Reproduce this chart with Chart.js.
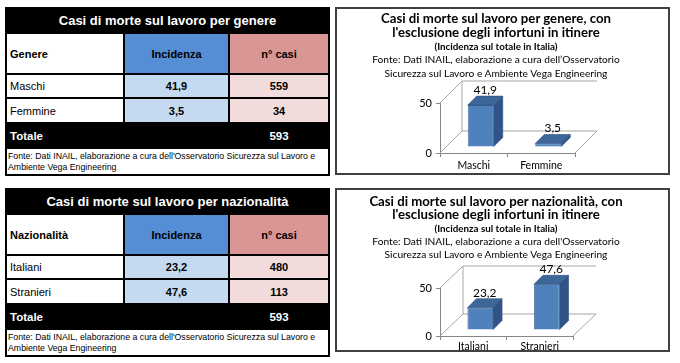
<!DOCTYPE html>
<html><head><meta charset="utf-8">
<script src="https://cdn.jsdelivr.net/npm/chart.js@4.4.1/dist/chart.umd.min.js"></script>
<style>
body{margin:0;width:680px;height:363px;background:#fff;position:relative;overflow:hidden;font-family:"Liberation Sans",Arial,sans-serif}
.tbl{position:absolute;left:5px;width:325px;height:169px;box-sizing:border-box;padding:2px;background:#000;display:grid;grid-template-columns:116px 103px 98px;grid-template-rows:23px 39px 22px 23px 23px 25px;gap:2px}
.tbl div{display:flex;align-items:center;font-size:11px;color:#000;box-sizing:border-box}
.tbl .t-title{grid-column:1/4;justify-content:center;color:#fff;font-weight:bold;font-size:13px;background:#000}
.tbl .hdr1{background:#fff;font-weight:bold;padding-left:3px}
.tbl .hdrI{background:#558ED5;font-weight:bold;justify-content:center}
.tbl .hdrN{background:#DA9694;font-weight:bold;justify-content:center}
.tbl .lab{background:#fff;padding-left:3px}
.tbl .vI{background:#C5D9F1;font-weight:bold;justify-content:center}
.tbl .vN{background:#F2DCDB;font-weight:bold;justify-content:center}
.tbl .tot{color:#fff;font-weight:bold;background:#000;padding-left:3px;font-size:11.5px}
.tbl .totv{color:#fff;font-weight:bold;justify-content:center;background:#000;font-size:11.5px}
.tbl .fonte{grid-column:1/4;background:#fff;font-size:8.75px;line-height:11px;padding:2px 0 0 1px;align-items:flex-start;display:block;white-space:nowrap;overflow:hidden}
.box{position:absolute;left:335px;width:335px;box-sizing:border-box;border:2px solid #404040;background:#fff}
.ct{position:absolute;left:340px;width:312px;text-align:center;font-family:Lato,"Noto Sans",sans-serif;color:#000;z-index:2}
.ct .t1{font-weight:bold;font-size:13.2px;white-space:nowrap}
.ct .t2{font-weight:bold;font-size:9.8px;white-space:nowrap}
.ct .t3{font-size:10.2px;white-space:nowrap}
canvas{position:absolute;z-index:1}
</style></head>
<body>
<div class="tbl" id="tab1" style="top:7px"></div>
<div class="tbl" id="tab2" style="top:188px"></div>

<div class="box" style="top:7px;height:168px"></div>
<div class="ct" style="top:12px;line-height:13.8px">
 <div class="t1">Casi di morte sul lavoro per genere, con</div>
 <div class="t1">l'esclusione degli infortuni in itinere</div>
 <div class="t2">(Incidenza sul totale in Italia)</div>
 <div class="t3">Fonte: Dati INAIL, elaborazione a cura dell’Osservatorio</div>
 <div class="t3">Sicurezza sul Lavoro e Ambiente Vega Engineering</div>
</div>
<canvas id="c1" width="320" height="98" style="left:340px;top:76px"></canvas>

<div class="box" style="top:188px;height:164px"></div>
<div class="ct" style="top:195px;line-height:13.3px">
 <div class="t1">Casi di morte sul lavoro per nazionalità, con</div>
 <div class="t1">l'esclusione degli infortuni in itinere</div>
 <div class="t2">(Incidenza sul totale in Italia)</div>
 <div class="t3">Fonte: Dati INAIL, elaborazione a cura dell'Osservatorio</div>
 <div class="t3">Sicurezza sul Lavoro e Ambiente Vega Engineering</div>
</div>
<canvas id="c2" width="320" height="100" style="left:340px;top:250px"></canvas>

<script>
// ---- DATA ----
const genereCategories = ["Maschi", "Femmine"];
const genereIncidenza = [41.9, 3.5];
const genereCasi = [559, 34];
const genereTotale = 593;

const nazCategories = ["Italiani", "Stranieri"];
const nazIncidenza = [23.2, 47.6];
const nazCasi = [480, 113];
const nazTotale = 593;

const yTickValues = [0, 50];

// ---- helpers ----
const fmt = v => v.toFixed(1).replace('.', ',');

function buildTable(el, title, head, cats, inc, casi, tot) {
  const h = [];
  h.push(`<div class="t-title">${title}</div>`);
  h.push(`<div class="hdr1">${head}</div><div class="hdrI">Incidenza</div><div class="hdrN">n° casi</div>`);
  cats.forEach((c, i) => h.push(`<div class="lab">${c}</div><div class="vI">${fmt(inc[i])}</div><div class="vN">${casi[i]}</div>`));
  h.push(`<div class="tot">Totale</div><div class="totv"></div><div class="totv">${tot}</div>`);
  h.push(`<div class="fonte">Fonte: Dati INAIL, elaborazione a cura dell'Osservatorio Sicurezza sul Lavoro e<br>Ambiente Vega Engineering</div>`);
  el.innerHTML = h.join('');
}
buildTable(document.getElementById('tab1'), 'Casi di morte sul lavoro per genere', 'Genere', genereCategories, genereIncidenza, genereCasi, genereTotale);
buildTable(document.getElementById('tab2'), 'Casi di morte sul lavoro per nazionalità', 'Nazionalità', nazCategories, nazIncidenza, nazCasi, nazTotale);

// ---- 3D plugin ----
const threeD = {
  id: 'threeD',
  beforeDatasetsDraw(chart, args, o) {
    const { ctx, chartArea: a, scales: { y } } = chart;
    const W = o.wall;
    const ln = (x1, y1, x2, y2) => { ctx.beginPath(); ctx.moveTo(x1, y1); ctx.lineTo(x2, y2); ctx.stroke(); };
    ctx.save();
    ctx.strokeStyle = '#A6A6A6';
    ctx.lineWidth = 1;
    const top = y.getPixelForValue(y.max), bot = y.getPixelForValue(y.min);
    ln(a.left, top, a.left + W.dx, top + W.dy);
    ln(a.left, bot, a.left + W.dx, bot + W.dy);
    ln(a.left + W.dx, top + W.dy, a.left + W.dx, bot + W.dy);
    y.ticks.forEach(t => {
      const py = y.getPixelForValue(t.value);
      ln(a.left + W.dx, py + W.dy, a.right + W.dx, py + W.dy);
    });
    ln(a.right, bot, a.right + W.dx, bot + W.dy);
    ctx.restore();
    ctx.save();
    ctx.translate(o.bar.dx, o.bar.dy);
  },
  afterDatasetsDraw(chart, args, o) {
    const ctx = chart.ctx;
    const meta = chart.getDatasetMeta(0);
    const d = o.depth;
    meta.data.forEach(bar => {
      const { x, y, base, width } = bar.getProps(['x', 'y', 'base', 'width'], true);
      const l = x - width / 2, r = x + width / 2;
      ctx.fillStyle = o.topColor;
      ctx.strokeStyle = o.edgeColor; ctx.lineWidth = 0.6;
      ctx.beginPath(); ctx.moveTo(l, y); ctx.lineTo(r, y); ctx.lineTo(r + d.dx, y + d.dy); ctx.lineTo(l + d.dx, y + d.dy); ctx.closePath(); ctx.fill(); ctx.stroke();
      ctx.fillStyle = o.sideColor;
      ctx.beginPath(); ctx.moveTo(r, y); ctx.lineTo(r + d.dx, y + d.dy); ctx.lineTo(r + d.dx, base + d.dy); ctx.lineTo(r, base); ctx.closePath(); ctx.fill(); ctx.stroke();
    });
    ctx.restore();
    // value labels
    ctx.save();
    ctx.font = '12px Lato, "Noto Sans", sans-serif';
    ctx.fillStyle = '#000';
    ctx.textAlign = 'center';
    ctx.textBaseline = 'middle';
    const vals = chart.data.datasets[0].data;
    meta.data.forEach((bar, i) => {
      const { x, y } = bar.getProps(['x', 'y'], true);
      ctx.fillText(fmt(vals[i]), x + o.bar.dx + d.dx / 2, y + o.bar.dy + d.dy - o.labelGap);
    });
    ctx.restore();
  }
};

function makeChart(id, cats, vals, p) {
  return new Chart(document.getElementById(id), {
    type: 'bar',
    data: {
      labels: cats,
      datasets: [{
        data: vals,
        backgroundColor: '#4F81BD',
        borderColor: '#3B6494',
        borderWidth: 0.8,
        categoryPercentage: 1,
        barPercentage: 0.385,
        clip: false
      }]
    },
    options: {
      responsive: false,
      animation: false,
      devicePixelRatio: 1,
      layout: { padding: { top: p.padTop, right: p.padRight, left: 0, bottom: 0 } },
      plugins: {
        legend: { display: false },
        tooltip: { enabled: false },
        threeD: {
          wall: p.wall, bar: { dx: 7, dy: -6 }, depth: { dx: 9, dy: -9 },
          topColor: '#3D6699', sideColor: '#30548A', edgeColor: '#2F5180', labelGap: 6
        }
      },
      scales: {
        x: {
          offset: true,
          grid: { offset: true, drawOnChartArea: false, tickLength: 4, color: '#868686' },
          border: { color: '#868686' },
          ticks: { color: '#000', padding: p.xPad, font: { family: 'Lato', size: 10.5 } },
          afterFit: s => { s.height = p.xH; }
        },
        y: {
          min: 0, max: 50,
          afterBuildTicks: s => { s.ticks = yTickValues.map(v => ({ value: v })); },
          grid: { drawOnChartArea: false, tickLength: 4, color: '#868686' },
          border: { color: '#868686' },
          ticks: { color: '#000', padding: 4, font: { family: 'Lato', size: 11 } },
          afterFit: s => { s.width = 100; }
        }
      }
    },
    plugins: [threeD]
  });
}

makeChart('c1', genereCategories, genereIncidenza, { padTop: 27, padRight: 85, xH: 21, xPad: 2, wall: { dx: 22, dy: -22 } });
makeChart('c2', nazCategories, nazIncidenza, { padTop: 38, padRight: 87, xH: 14, xPad: 0, wall: { dx: 23, dy: -22 } });
</script>
</body></html>
